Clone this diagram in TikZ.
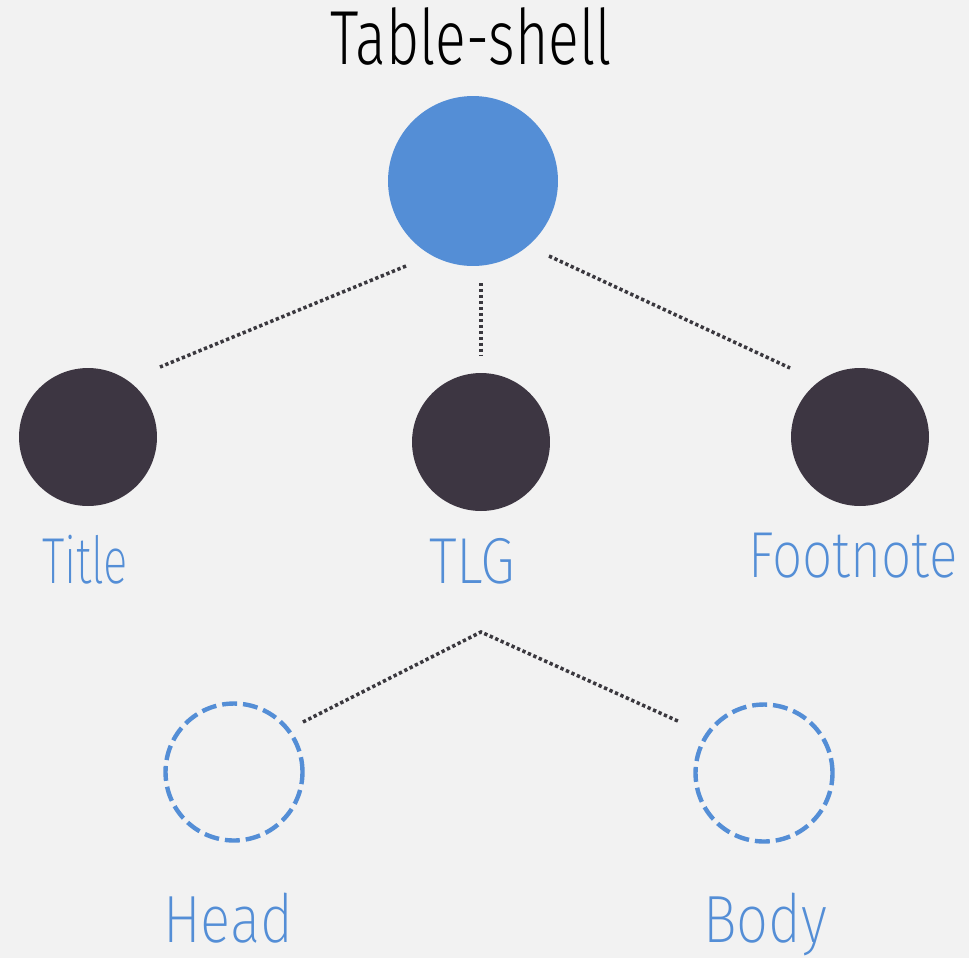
\documentclass[tikz,border=0pt]{standalone}
\usepackage{fontspec}
\setmainfont{Fira Sans}[UprightFont=* Light]
\newfontfamily\thinfont{Fira Sans}[UprightFont=* ExtraLight]
\usepackage{graphicx}
\usepackage{tikz}

\definecolor{shellblue}{RGB}{84,142,214}
\definecolor{nodedark}{RGB}{61,54,66}
\definecolor{linkgray}{RGB}{58,56,62}
\definecolor{paper}{RGB}{242,242,242}

\newcommand{\fitw}[2]{\resizebox{#1}{\height}{#2}}

\begin{document}
\begin{tikzpicture}[x=0.02cm, y=-0.02cm,
        root/.style={circle, fill=shellblue, minimum size=3.4cm, inner sep=0pt},
        part/.style={circle, fill=nodedark, minimum size=2.76cm, inner sep=0pt},
        leaf/.style={circle, draw=shellblue, line width=2.5pt, dash pattern=on 8.5pt off 3.4pt, minimum size=2.74cm, inner sep=0pt},
        link/.style={draw=linkgray, line width=2pt, dash pattern=on 1.9pt off 1.5pt},
        partlabel/.style={anchor=base, text=shellblue, font=\thinfont\fontsize{37}{40}\selectfont, inner sep=0pt},
        leaflabel/.style={anchor=base, text=shellblue, font=\thinfont\fontsize{38}{40}\selectfont, inner sep=0pt}]
        \fill[paper] (0, 0) rectangle (969, 958);
        \useasboundingbox (0, 0) rectangle (969, 958);

        \node[anchor=base, inner sep=0pt, font=\fontsize{43.6}{46}\selectfont] (shelltext) at (471, 64) {\fitw{5.64cm}{Table-shell}};
        \node[root] (shell) at (473, 181) {};

        \node[part] (title) at (88, 437) {};
        \node[part] (tlg) at (481, 442) {};
        \node[part] (footnote) at (860, 437) {};

        \node[partlabel] (titletext) at (85, 583) {\fitw{1.72cm}{Title}};
        \node[partlabel] (tlgtext) at (472, 583) {\fitw{1.72cm}{TLG}};
        \node[partlabel] (footnotetext) at (853, 577) {\fitw{4.18cm}{Footnote}};

        \node[leaf] (head) at (234, 772) {};
        \node[leaf] (body) at (764, 773) {};

        \node[leaflabel] (headtext) at (228, 942) {\fitw{2.6cm}{Head}};
        \node[leaflabel] (bodytext) at (765, 942) {\fitw{2.48cm}{Body}};

        % loose ends of the dotted links
        \coordinate (shell-l) at (406, 266);
        \coordinate (shell-m) at (481, 283);
        \coordinate (shell-r) at (549, 256);
        \coordinate (title-r) at (160, 367);
        \coordinate (tlg-t) at (481, 356);
        \coordinate (footnote-l) at (790, 368);
        \coordinate (tlg-fork) at (481, 632);
        \coordinate (head-r) at (303, 722);
        \coordinate (body-l) at (680, 722);

        \draw[link] (shell-l) -- (title-r);
        \draw[link] (shell-m) -- (tlg-t);
        \draw[link] (shell-r) -- (footnote-l);
        \draw[link] (head-r) -- (tlg-fork) -- (body-l);
    \end{tikzpicture}
\end{document}
